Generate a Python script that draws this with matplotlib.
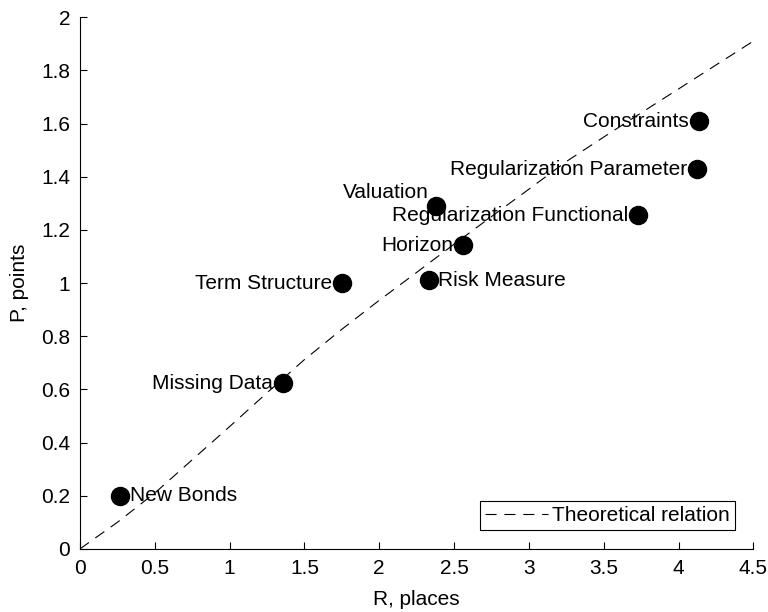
import matplotlib
matplotlib.use('Agg')
import matplotlib.pyplot as plt
import numpy as np

plt.rcParams['font.family'] = ['Liberation Sans', 'DejaVu Sans']
plt.rcParams['font.size'] = 15

# points
names = ['New Bonds', 'Missing Data', 'Term Structure', 'Risk Measure', 'Horizon',
         'Valuation', 'Regularization Functional', 'Regularization Parameter',
         'Constraints']
r_places = [0.27, 1.355, 1.75, 2.33, 2.56, 2.38, 3.73, 4.12, 4.135]
p_points = [0.20, 0.624, 1.00, 1.01, 1.142, 1.289, 1.255, 1.428, 1.609]
# label side: 'r' right of the dot, 'l' left, 'ul' above-left
sides = ['r', 'l', 'l', 'r', 'l', 'ul', 'l', 'l', 'l']

# theoretical relation (dashed curve)
theo_r = [0, 0.25, 0.5, 0.75, 1.0, 1.25, 1.5, 1.75, 2.0, 2.25, 2.5, 2.75,
          3.0, 3.25, 3.5, 3.75, 4.0, 4.25, 4.5]
theo_p = [0, 0.10, 0.21, 0.335, 0.46, 0.587, 0.712, 0.826, 0.935, 1.04, 1.146,
          1.25, 1.353, 1.457, 1.549, 1.64, 1.73, 1.82, 1.91]

fig = plt.figure(figsize=(7.68, 6.12), dpi=100)
ax = fig.add_axes([0.104, 0.103, 0.877, 0.869])

ax.plot(theo_r, theo_p, color='black', linewidth=0.8, linestyle='--',
        dashes=(10, 7), label='Theoretical relation')
ax.plot(r_places, p_points, 'o', color='black', markersize=13, label='_nolegend_')

for n, x, y, s in zip(names, r_places, p_points, sides):
    if s == 'r':
        ax.annotate(n, (x, y), xytext=(7, 0), textcoords='offset points',
                    ha='left', va='center')
    elif s == 'l':
        ax.annotate(n, (x, y), xytext=(-7, 0), textcoords='offset points',
                    ha='right', va='center')
    else:
        ax.annotate(n, (x, y), xytext=(-5, 3), textcoords='offset points',
                    ha='right', va='bottom')

ax.set_xlim(0, 4.5)
ax.set_ylim(0, 2)
ax.set_xticks(np.arange(0, 4.51, 0.5))
ax.set_xticklabels(['0', '0.5', '1', '1.5', '2', '2.5', '3', '3.5', '4', '4.5'])
ax.set_yticks(np.arange(0, 2.01, 0.2))
ax.set_yticklabels(['0', '0.2', '0.4', '0.6', '0.8', '1', '1.2', '1.4', '1.6', '1.8', '2'])
ax.tick_params(direction='in', length=5, width=0.8, pad=7)
ax.spines['top'].set_visible(False)
ax.spines['right'].set_visible(False)
ax.set_xlabel('R, places', labelpad=9)
ax.set_ylabel('P, points', labelpad=9)

leg = ax.legend(loc='lower right', fancybox=False, edgecolor='black',
                framealpha=1, borderaxespad=0.9, handlelength=3.0,
                borderpad=0.25, handletextpad=0.2)
leg.get_frame().set_linewidth(0.8)

fig.savefig('out.png', dpi=100)
